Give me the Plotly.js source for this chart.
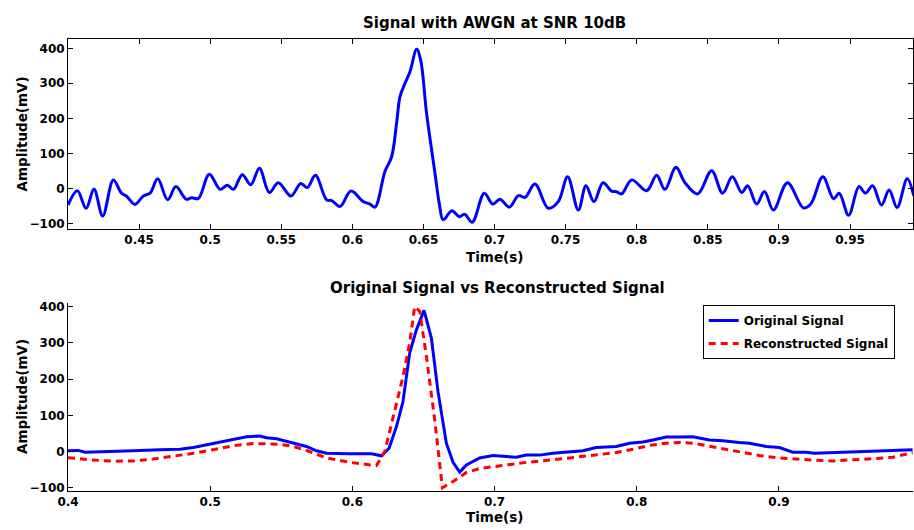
<!DOCTYPE html>
<html>
<head>
<meta charset="utf-8">
<script src="https://cdn.plot.ly/plotly-3.0.1.min.js"></script>
<style>html,body{margin:0;padding:0;background:#fff;}#chart{width:914px;height:530px;}</style>
</head>
<body>
<div id="chart"></div>
<script>
// ---- Top panel: noisy signal (AWGN, SNR 10 dB) ----
const noisyTime = [0.4000,0.4066,0.4127,0.4183,0.4244,0.4319,0.4376,0.4411,0.4471,0.4530,0.4577,0.4631,0.4701,0.4759,0.4830,0.4870,0.4917,0.4994,0.5070,0.5121,0.5163,0.5226,0.5285,0.5346,0.5416,0.5479,0.5568,0.5637,0.5683,0.5740,0.5819,0.5854,0.5913,0.5990,0.6077,0.6124,0.6159,0.6229,0.6276,0.6311,0.6335,0.6370,0.6405,0.6452,0.6480,0.6522,0.6581,0.6611,0.6639,0.6700,0.6752,0.6790,0.6843,0.6928,0.6987,0.7038,0.7104,0.7167,0.7214,0.7284,0.7378,0.7448,0.7514,0.7589,0.7643,0.7699,0.7763,0.7823,0.7858,0.7894,0.7964,0.8070,0.8140,0.8198,0.8276,0.8339,0.8428,0.8527,0.8604,0.8672,0.8738,0.8780,0.8844,0.8898,0.8961,0.9060,0.9172,0.9224,0.9309,0.9384,0.9424,0.9490,0.9563,0.9608,0.9659,0.9721,0.9775,0.9831,0.9902,0.9948];
const noisyAmp = [-48,-7,-57,-3,-79,24,-14,-22,-46,-22,-14,27,-33,5,-31,-27,-29,40,-3,9,-3,39,10,57,-12,16,-22,14,2,37,-33,-35,-52,-8,-38,-45,-54,48,90,186,262,300,333,397,367,214,43,-43,-90,-64,-81,-74,-97,-14,-45,-31,-54,-21,-26,12,-57,-38,33,-62,7,-38,16,-8,-10,-16,24,-7,37,-3,60,16,-16,50,-14,33,-12,7,-45,-9,-62,16,-56,-45,33,-30,-14,-77,5,-14,7,-48,-5,-55,27,-22];

// ---- Bottom panel: original signal ----
const origTime = [0.4000,0.4072,0.4120,0.4272,0.4459,0.4647,0.4787,0.4881,0.4998,0.5068,0.5162,0.5256,0.5349,0.5396,0.5467,0.5560,0.5630,0.5677,0.5748,0.5818,0.5982,0.6134,0.6205,0.6258,0.6310,0.6356,0.6403,0.6450,0.6504,0.6556,0.6602,0.6661,0.6708,0.6755,0.6802,0.6895,0.6989,0.7153,0.7223,0.7317,0.7410,0.7505,0.7621,0.7715,0.7809,0.7856,0.7950,0.8043,0.8114,0.8207,0.8301,0.8394,0.8512,0.8605,0.8722,0.8792,0.8910,0.9003,0.9097,0.9190,0.9250,0.9425,0.9566,0.9683,0.9800,0.9940];
const origAmp = [2,3,-2,-1,2,5,6,11,21,26,35,41,43,38,35,26,18,14,2,-5,-6,-6,-12,9,69,138,272,336,390,313,166,23,-30,-57,-37,-18,-11,-16,-10,-10,-5,-2,2,11,12,14,23,26,32,40,40,41,32,30,25,23,14,11,-2,-2,-5,-2,0,3,3,5];

// ---- Bottom panel: reconstructed signal ----
const recTime = [0.4000,0.4155,0.4318,0.4459,0.4600,0.4740,0.4881,0.5021,0.5162,0.5302,0.5396,0.5490,0.5583,0.5677,0.5759,0.5818,0.5982,0.6169,0.6228,0.6286,0.6356,0.6403,0.6438,0.6474,0.6521,0.6579,0.6633,0.6708,0.6802,0.6895,0.7036,0.7223,0.7410,0.7621,0.7740,0.7856,0.7973,0.8090,0.8207,0.8301,0.8394,0.8512,0.8629,0.8746,0.8863,0.8980,0.9097,0.9238,0.9378,0.9519,0.9660,0.9800,0.9940];
const recAmp = [-17,-23,-27,-26,-21,-14,-5,5,16,22,22,20,14,3,-9,-18,-30,-39,0,97,207,299,400,387,262,87,-100,-83,-58,-47,-40,-30,-23,-14,-9,-3,6,17,23,25,23,14,5,-3,-11,-17,-21,-24,-26,-24,-20,-16,-3];

// ---- Labels ----
const topTitle = "Signal with AWGN at SNR 10dB";
const bottomTitle = "Original Signal vs Reconstructed Signal";
const xLabel = "Time(s)";
const yLabel = "Amplitude(mV)";
const seriesNames = ["Original Signal", "Reconstructed Signal"];
const topXTicks = [0.45,0.5,0.55,0.6,0.65,0.7,0.75,0.8,0.85,0.9,0.95];
const topXTickText = ["0.45","0.5","0.55","0.6","0.65","0.7","0.75","0.8","0.85","0.9","0.95"];
const bottomXTicks = [0.4,0.5,0.6,0.7,0.8,0.9];
const bottomXTickText = ["0.4","0.5","0.6","0.7","0.8","0.9"];
const yTicks = [-100,0,100,200,300,400];
const yTickText = ["\u2212100","0","100","200","300","400"];

const W = 914, H = 530;
const FAM = "DejaVu Sans";
const px = x => x / W;
const py = y => 1 - y / H;

const traces = [
  {x: noisyTime, y: noisyAmp, xaxis: 'x', yaxis: 'y', type: 'scatter', mode: 'lines',
   line: {color: '#0000ff', width: 3, shape: 'spline', smoothing: 1}, showlegend: false, hoverinfo: 'skip'},
  {x: origTime, y: origAmp, xaxis: 'x2', yaxis: 'y2', type: 'scatter', mode: 'lines', name: seriesNames[0],
   legendgroup: 'a', line: {color: '#0000ff', width: 3}},
  {x: recTime, y: recAmp, xaxis: 'x2', yaxis: 'y2', type: 'scatter', mode: 'lines', name: seriesNames[1],
   legendgroup: 'b', line: {color: '#ff0000', width: 3, dash: '7px,5px'}}
];

const tickFont = {family: FAM, size: 12, color: '#000', weight: 'bold'};
const axisBase = {showgrid: false, zeroline: false, showline: true, linecolor: '#000', linewidth: 1,
  ticks: 'inside', ticklen: 5, tickcolor: '#000', tickwidth: 1, tickfont: tickFont, tickmode: 'array'};

const layout = {
  width: W, height: H,
  margin: {l: 0, r: 0, t: 0, b: 0},
  paper_bgcolor: '#fff', plot_bgcolor: '#fff',
  font: {family: FAM, color: '#000'},
  xaxis: Object.assign({}, axisBase, {domain: [px(68), px(913.3)], range: [0.4, 0.9945], anchor: 'y',
    mirror: 'ticks', tickvals: topXTicks, ticktext: topXTickText}),
  yaxis: Object.assign({}, axisBase, {domain: [py(229), py(39.3)], range: [-116.3, 425.7], anchor: 'x',
    mirror: 'ticks', tickvals: yTicks, ticktext: yTickText}),
  xaxis2: Object.assign({}, axisBase, {domain: [px(68), px(913.3)], range: [0.4, 0.9945], anchor: 'y2',
    tickvals: bottomXTicks, ticktext: bottomXTickText}),
  yaxis2: Object.assign({}, axisBase, {domain: [py(490.7), py(303.3)], range: [-108.3, 409.4], anchor: 'x2',
    tickvals: yTicks, ticktext: yTickText}),
  showlegend: true,
  legend: {x: px(702.7), y: py(305), xanchor: 'left', yanchor: 'top', bordercolor: '#000', borderwidth: 1,
    bgcolor: '#fff', font: {family: FAM, size: 12, color: '#000', weight: 'bold'}, itemwidth: 30,
    traceorder: 'grouped', tracegroupgap: 4, entrywidth: 166, entrywidthmode: 'pixels'},
  annotations: [
    {text: topTitle, x: px(494), y: py(23), xref: 'paper', yref: 'paper', xanchor: 'center', yanchor: 'middle',
     showarrow: false, font: {family: FAM, size: 15, color: '#000', weight: 'bold'}},
    {text: bottomTitle, x: px(497.7), y: py(287.5), xref: 'paper', yref: 'paper', xanchor: 'center', yanchor: 'middle',
     showarrow: false, font: {family: FAM, size: 15, color: '#000', weight: 'bold'}},
    {text: xLabel, x: px(494), y: py(256.5), xref: 'paper', yref: 'paper', xanchor: 'center', yanchor: 'middle',
     showarrow: false, font: {family: FAM, size: 13.5, color: '#000', weight: 'bold'}},
    {text: xLabel, x: px(494), y: py(516.5), xref: 'paper', yref: 'paper', xanchor: 'center', yanchor: 'middle',
     showarrow: false, font: {family: FAM, size: 13.5, color: '#000', weight: 'bold'}},
    {text: yLabel, x: px(21.5), y: py(134), xref: 'paper', yref: 'paper', xanchor: 'center', yanchor: 'middle',
     textangle: -90, showarrow: false, font: {family: FAM, size: 13.5, color: '#000', weight: 'bold'}},
    {text: yLabel, x: px(21.5), y: py(396.5), xref: 'paper', yref: 'paper', xanchor: 'center', yanchor: 'middle',
     textangle: -90, showarrow: false, font: {family: FAM, size: 13.5, color: '#000', weight: 'bold'}}
  ]
};

Plotly.newPlot('chart', traces, layout, {displayModeBar: false, staticPlot: true});
</script>
</body>
</html>
